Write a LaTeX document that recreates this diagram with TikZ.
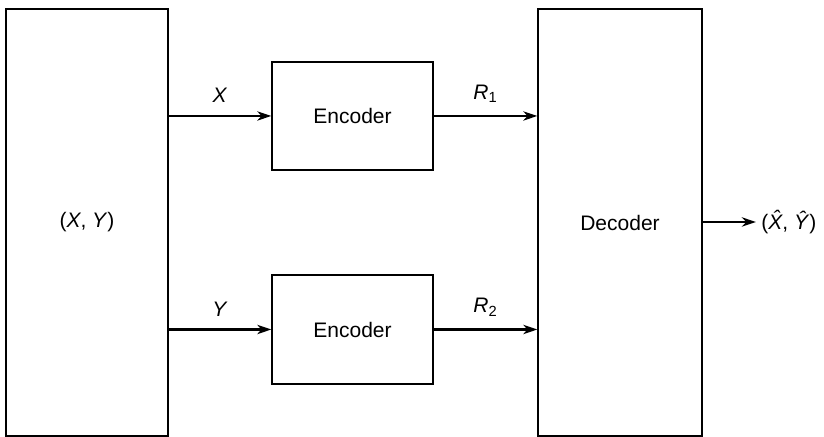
\documentclass[tikz,border=0pt]{standalone}
\usepackage{fontspec}
\setmainfont{Liberation Sans}
\usepackage{tikz}
\usetikzlibrary{arrows.meta, positioning}
\tikzset{
  blk/.style ={rectangle, draw=black, line width=0.7pt, inner sep=0pt,
               align=center, font=\fontsize{10.5}{12}\selectfont},
  lbl/.style ={font=\fontsize{10.5}{12}\selectfont, inner sep=0pt},
  arr/.style ={-{Stealth[length=7pt, width=4.6pt, inset=2.2pt]}, line width=1.3pt}
}
\begin{document}
\begin{tikzpicture}[x=0.5pt, y=-0.5pt]
  \useasboundingbox (0,0) rectangle (824,437);
  \node[blk, minimum width=81pt, minimum height=213.5pt] (src) at (87,222.5) {(\textit{X}, \textit{Y})};
  \node[blk, minimum width=80.5pt, minimum height=54pt] (enc1) at (352.5,116) {Encoder};
  \node[blk, minimum width=80.5pt, minimum height=54.5pt] (enc2) at (352.5,329.5) {Encoder};
  \node[blk, minimum width=82pt, minimum height=213.5pt] (dec) at (620,222.5) {Decoder};
  \node[lbl, anchor=west, inner sep=2.5pt] (out) at (756,222) {(\textit{\^{X}}, \textit{\^{Y}})};
  \draw[arr] (src.east |- enc1.west) -- node[lbl, above=6pt]{\textit{X}} (enc1.west);
  \draw[arr] (src.east |- enc2.west) -- node[lbl, above=6pt]{\textit{Y}} (enc2.west);
  \draw[arr] (enc1.east) -- node[lbl, above=6pt]{\textit{R}\textsubscript{1}} (enc1.east -| dec.west);
  \draw[arr] (enc2.east) -- node[lbl, above=6pt]{\textit{R}\textsubscript{2}} (enc2.east -| dec.west);
  \draw[arr] (dec.east |- out.west) -- (out.west);
\end{tikzpicture}
\end{document}
